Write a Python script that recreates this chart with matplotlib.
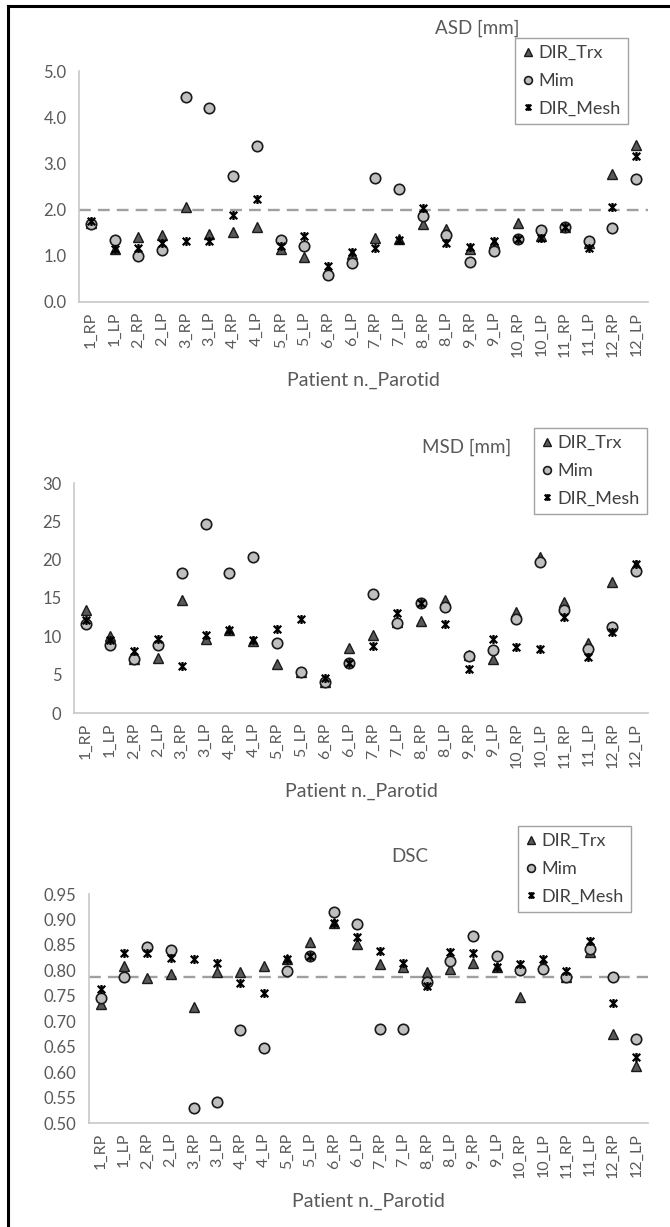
import matplotlib
matplotlib.use('Agg')
import matplotlib.pyplot as plt
from matplotlib.path import Path
from matplotlib.lines import Line2D
import numpy as np

# categorie (paziente_parotide)
cats = ['1_RP', '1_LP', '2_RP', '2_LP', '3_RP', '3_LP', '4_RP', '4_LP',
        '5_RP', '5_LP', '6_RP', '6_LP', '7_RP', '7_LP', '8_RP', '8_LP',
        '9_RP', '9_LP', '10_RP', '10_LP', '11_RP', '11_LP', '12_RP', '12_LP']

# ASD [mm]
asd_trx = [1.70, 1.15, 1.40, 1.44, 2.05, 1.47, 1.52, 1.63, 1.15, 0.97, 0.70, 1.03,
           1.38, 1.37, 1.68, 1.58, 1.15, 1.28, 1.70, 1.42, 1.62, 1.28, 2.78, 3.40]
asd_mim = [1.68, 1.35, 0.99, 1.13, 4.43, 4.20, 2.72, 3.37, 1.35, 1.22, 0.58, 0.85,
           2.68, 2.44, 1.86, 1.46, 0.86, 1.10, 1.37, 1.56, 1.62, 1.32, 1.60, 2.66]
asd_mesh = [1.75, 1.15, 1.17, 1.28, 1.32, 1.33, 1.88, 2.22, 1.22, 1.42, 0.79, 1.08,
            1.17, 1.35, 2.03, 1.28, 1.18, 1.32, 1.37, 1.38, 1.62, 1.17, 2.05, 3.15]
asd_limit = 2.0

# MSD [mm]
msd_trx = [13.5, 10.0, 7.1, 7.2, 14.7, 9.6, 10.8, 9.4, 6.35, 5.4, 4.1, 8.5,
           10.15, 11.9, 12.0, 14.8, 7.6, 7.1, 13.2, 20.4, 14.5, 9.15, 17.1, 19.3]
msd_mim = [11.6, 8.85, 7.1, 8.85, 18.2, 24.7, 18.2, 20.4, 9.15, 5.4, 4.1, 6.55,
           15.5, 11.8, 14.4, 13.8, 7.4, 8.2, 12.3, 19.7, 13.5, 8.4, 11.25, 18.5]
msd_mesh = [12.1, 9.5, 8.1, 9.6, 6.15, 10.2, 10.8, 9.5, 11.0, 12.25, 4.6, 6.55,
            8.7, 13.0, 14.4, 11.55, 5.8, 9.7, 8.6, 8.4, 12.55, 7.3, 10.6, 19.4]

# DSC
dsc_trx = [0.733, 0.809, 0.785, 0.792, 0.727, 0.796, 0.797, 0.809, 0.822, 0.856, 0.893, 0.852,
           0.812, 0.806, 0.796, 0.802, 0.815, 0.806, 0.748, 0.812, 0.786, 0.837, 0.674, 0.612]
dsc_mim = [0.746, 0.787, 0.845, 0.840, 0.530, 0.541, 0.682, 0.648, 0.799, 0.829, 0.915, 0.891,
           0.685, 0.684, 0.777, 0.819, 0.868, 0.829, 0.800, 0.802, 0.786, 0.842, 0.787, 0.666]
dsc_mesh = [0.763, 0.834, 0.834, 0.825, 0.822, 0.815, 0.775, 0.756, 0.822, 0.829, 0.893, 0.865,
            0.838, 0.815, 0.769, 0.836, 0.835, 0.806, 0.812, 0.823, 0.799, 0.858, 0.735, 0.630]
dsc_limit = 0.786

#%%

plt.rcParams['font.family'] = ['Lato', 'DejaVu Sans']
grigio = '#595959'

W, H = 670, 1227
fig = plt.figure(figsize=(W / 100, H / 100), dpi=100)

# marker "star" stile Excel: x + linea verticale
star = Path([(-1, -1), (1, 1), (-1, 1), (1, -1), (0, -1.2), (0, 1.2)],
            [Path.MOVETO, Path.LINETO] * 3)

def px_box(left, top, right, bottom):
    return [left / W, 1 - bottom / H, (right - left) / W, (bottom - top) / H]

def pannello(box, trx, mim, mesh, ylim, yticks, yfmt, titolo, tpos, legpos, soglia=None):
    ax = fig.add_axes(px_box(*box))
    x = np.arange(len(cats))
    ax.plot(x, trx, linestyle='none', marker='^', ms=7.5, mfc=grigio, mec='#1a1a1a',
            mew=1.0, label='DIR_Trx', zorder=3)
    ax.plot(x, mim, linestyle='none', marker='o', ms=7.5, mfc='#bfbfbf', mec='#1a1a1a',
            mew=1.2, label='Mim', zorder=4)
    ax.plot(x, mesh, linestyle='none', marker=star, ms=6.5, mec='black', mfc='none',
            mew=1.6, label='DIR_Mesh', zorder=5)
    if soglia is not None:
        l, = ax.plot([-0.5, len(cats) - 0.5], [soglia, soglia], color='#a0a0a0', lw=1.7, zorder=2)
        l.set_dashes((5.0, 3.0))
    ax.set_xlim(-0.5, len(cats) - 0.5)
    ax.set_ylim(*ylim)
    ax.set_yticks(yticks)
    ax.set_yticklabels([yfmt.format(v) for v in yticks])
    ax.set_xticks(x)
    ax.set_xticklabels(cats, rotation=90)
    ax.tick_params(axis='both', length=0, colors=grigio)
    ax.tick_params(axis='y', labelsize=12, pad=9)
    ax.tick_params(axis='x', labelsize=11.5, pad=7)
    for s in ['top', 'right']:
        ax.spines[s].set_visible(False)
    for s in ['left', 'bottom']:
        ax.spines[s].set_color('#c8c8c8')
        ax.spines[s].set_linewidth(1.2)
    ax.set_xlabel('Patient n._Parotid', fontsize=14, color=grigio, labelpad=10)
    fig.text(tpos[0] / W, 1 - tpos[1] / H, titolo, fontsize=13.5, color=grigio,
             ha='center', va='center')
    leg = fig.legend(*ax.get_legend_handles_labels(), loc='upper left',
                     bbox_to_anchor=(legpos[0] / W, 1 - legpos[1] / H), borderaxespad=0,
                     fontsize=13, frameon=True, fancybox=False, handlelength=0.6,
                     handletextpad=0.3, labelspacing=0.65, borderpad=0.4, markerscale=0.75)
    leg.get_frame().set_edgecolor('#8c8c8c')
    leg.get_frame().set_linewidth(1.0)
    for t in leg.get_texts():
        t.set_color('#404040')
    return ax

pannello((79, 71, 648, 302), asd_trx, asd_mim, asd_mesh, (0, 5), np.arange(0, 5.01, 1.0),
         '{:.1f}', 'ASD [mm]', (477, 28), (515, 38), soglia=asd_limit)
pannello((74, 483, 648, 713), msd_trx, msd_mim, msd_mesh, (0, 30), np.arange(0, 31, 5),
         '{:.0f}', 'MSD [mm]', (467, 447), (534, 428))
pannello((89, 894, 648, 1123), dsc_trx, dsc_mim, dsc_mesh, (0.5, 0.95),
         np.arange(0.50, 0.951, 0.05), '{:.2f}', 'DSC', (410, 857), (518, 826), soglia=dsc_limit)

# bordo nero (sopra e a sinistra)
fig.add_artist(Line2D([8 / W, 1], [1 - 6 / H, 1 - 6 / H], color='black', lw=2.2,
                      transform=fig.transFigure))
fig.add_artist(Line2D([8 / W, 8 / W], [0, 1 - 6 / H], color='black', lw=2.2,
                      transform=fig.transFigure))

fig.savefig('out.png', dpi=100)
